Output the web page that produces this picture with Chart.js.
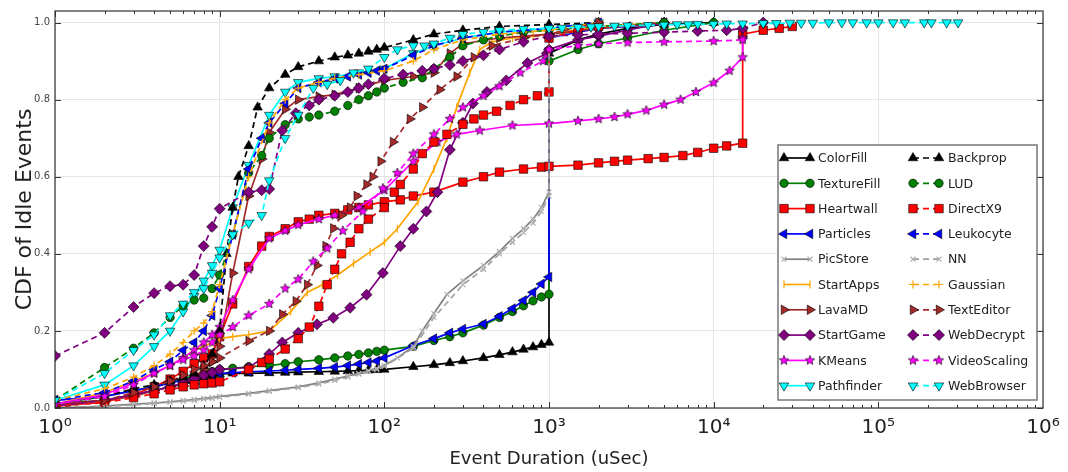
<!DOCTYPE html>
<html>
<head>
<meta charset="utf-8">
<script src="https://cdn.jsdelivr.net/npm/chart.js@4.4.0/dist/chart.umd.min.js"></script>
<style>
  html, body { margin: 0; padding: 0; background: #fff; }
  #wrap { width: 1068px; height: 472px; }
</style>
</head>
<body>
<div id="wrap"><canvas id="cdfChart" width="1068" height="472"></canvas></div>
<script>
// ---- axes ----
const xTicks = [1, 10, 100, 1000, 10000, 100000, 1000000];
const xTickLabels = ['10\u2070', '10\u00B9', '10\u00B2', '10\u00B3', '10\u2074', '10\u2075', '10\u2076'];
const yTicks = [0, 0.2, 0.4, 0.6, 0.8, 1.0];

// shared x grid (uSec) used by the low curves that end at 1000
const baseX = [1,2,3,4,5,6,7,8,9,10,12,15,20,25,30,40,50,60,70,80,90,100,150,200,250,300,400,500,600,700,800,900,1000];

// ---- series ----
const colorFillX = baseX.concat([1000,1500,2000,3000,5000,10000]);
const colorFillY = [0.01,0.02,0.035,0.045,0.055,0.062,0.07,0.078,0.083,0.088,0.09,0.09,0.091,0.092,0.093,0.094,0.095,0.096,0.097,0.098,0.099,0.1,0.107,0.112,0.117,0.122,0.13,0.138,0.145,0.152,0.158,0.164,0.17,
  0.92,0.955,0.97,0.985,0.995,1.0];

const textureFillX = baseX.concat([1000,1500,2000,3000,5000,10000]);
const textureFillY = [0.01,0.03,0.045,0.055,0.065,0.075,0.085,0.09,0.095,0.1,0.103,0.107,0.11,0.115,0.12,0.125,0.13,0.135,0.139,0.143,0.147,0.15,0.16,0.175,0.185,0.195,0.215,0.235,0.25,0.265,0.278,0.288,0.295,
  0.9,0.93,0.945,0.96,0.98,1.0];

const heartwallX = [1,2,3,4,5,6,7,8,9,10,12,15,18,20,25,30,35,40,50,60,70,80,100,125,150,200,300,400,500,700,900,1000,1500,2000,2500,3000,4000,5000,6500,8000,10000,12000,15000,15000,20000,25000,30000];
const heartwallY = [0.005,0.015,0.035,0.055,0.075,0.095,0.115,0.13,0.14,0.185,0.27,0.367,0.42,0.445,0.465,0.483,0.49,0.5,0.505,0.514,0.52,0.527,0.535,0.54,0.55,0.56,0.586,0.6,0.612,0.62,0.625,0.627,0.63,0.636,0.64,0.643,0.647,0.65,0.655,0.663,0.674,0.68,0.687,0.97,0.98,0.985,0.99];

const particlesX = baseX.concat([1000,1500,2000,3000,5000]);
const particlesY = [0.02,0.03,0.045,0.055,0.065,0.072,0.078,0.083,0.087,0.09,0.092,0.094,0.096,0.098,0.1,0.103,0.106,0.11,0.114,0.118,0.122,0.13,0.162,0.18,0.195,0.205,0.218,0.238,0.258,0.279,0.3,0.322,0.34,
  0.96,0.975,0.985,0.99,1.0];

const picStoreX = [1,2,3,4,5,6,7,8,9,10,15,20,30,40,50,60,70,80,90,100,120,150,170,200,240,300,400,500,600,700,800,900,1000,1000,1500,2000];
const picStoreY = [0.0,0.005,0.01,0.013,0.016,0.019,0.022,0.025,0.027,0.03,0.038,0.045,0.055,0.065,0.075,0.083,0.09,0.097,0.103,0.11,0.13,0.16,0.2,0.245,0.295,0.33,0.37,0.406,0.44,0.465,0.49,0.52,0.56,0.96,0.98,1.0];

const startAppsX = [1,2,3,4,5,6,7,8,9,10,12,15,20,27,34,42,52,65,82,100,120,160,200,240,275,330,380,450,600,800,1000,2000,5000];
const startAppsY = [0.01,0.04,0.07,0.09,0.11,0.13,0.15,0.16,0.17,0.18,0.185,0.19,0.2,0.25,0.3,0.32,0.345,0.375,0.405,0.43,0.465,0.535,0.62,0.7,0.78,0.87,0.93,0.95,0.96,0.965,0.97,0.99,1.0];

const lavaMDX = [1,2,3,4,5,6,7,8,9,10,12,15,18,20,25,30,40,50,70,100,150,200,250,300,500,1000,2000,5000];
const lavaMDY = [0.01,0.02,0.03,0.045,0.055,0.065,0.08,0.1,0.12,0.16,0.35,0.55,0.646,0.715,0.775,0.8,0.808,0.813,0.83,0.85,0.86,0.87,0.92,0.945,0.96,0.97,0.985,1.0];

const startGameX = [1,2,3,4,5,6,7,8,9,10,15,20,24,30,39,49,62,78,98,125,150,180,210,250,300,345,420,550,740,970,1000,1500,2000,5000];
const startGameY = [0.005,0.02,0.035,0.045,0.055,0.065,0.075,0.085,0.092,0.1,0.105,0.14,0.17,0.195,0.217,0.234,0.26,0.294,0.35,0.42,0.465,0.51,0.56,0.67,0.74,0.79,0.82,0.85,0.895,0.92,0.93,0.955,0.965,1.0];

const kMeansX = [1,2,3,4,5,6,7,8,9,10,12,15,20,25,30,40,50,70,100,150,210,275,380,600,1000,1500,2000,2500,3000,3900,5000,6300,7800,10000,12500,15000,15000];
const kMeansY = [0.01,0.035,0.065,0.09,0.11,0.13,0.15,0.17,0.19,0.21,0.28,0.36,0.44,0.46,0.475,0.49,0.5,0.52,0.565,0.64,0.69,0.71,0.72,0.733,0.738,0.745,0.75,0.755,0.762,0.772,0.787,0.8,0.82,0.844,0.875,0.91,0.96];

const pathfinderX = [1,2,3,4,5,6,7,8,9,10,12,15,20,25,30,40,50,70,100,150,200,300,500,1000,2000];
const pathfinderY = [0.02,0.06,0.11,0.16,0.2,0.25,0.29,0.33,0.37,0.41,0.52,0.63,0.76,0.82,0.845,0.855,0.86,0.87,0.88,0.92,0.94,0.96,0.975,0.985,1.0];

const backpropX = [1,2,3,4,5,6,7,8,9,10,11,12,13,15,17,20,25,30,40,50,60,70,80,90,100,150,200,300,500,1000,2000];
const backpropY = [0.01,0.03,0.05,0.06,0.07,0.08,0.09,0.11,0.14,0.2,0.4,0.52,0.6,0.68,0.78,0.83,0.865,0.885,0.9,0.91,0.915,0.92,0.925,0.93,0.935,0.955,0.97,0.98,0.99,0.995,1.0];

const ludX = [1,2,3,4,5,6,7,8,9,10,12,15,18,20,25,30,35,40,50,60,70,80,90,100,130,170,200,250,300,400,500,700,1000,2000,5000];
const ludY = [0.02,0.105,0.155,0.195,0.235,0.265,0.28,0.285,0.31,0.345,0.45,0.61,0.655,0.7,0.735,0.75,0.755,0.76,0.77,0.785,0.8,0.81,0.82,0.83,0.845,0.857,0.88,0.91,0.94,0.955,0.965,0.975,0.98,0.99,1.0];

const directX9X = [1,2,3,4,5,6,7,8,9,10,15,18,20,25,30,35,40,45,50,55,62,70,80,100,115,125,150,170,200,240,300,350,400,480,580,700,850,1000,1000,1500,2000];
const directX9Y = [0.005,0.014,0.027,0.037,0.047,0.055,0.06,0.063,0.065,0.068,0.1,0.118,0.127,0.153,0.18,0.21,0.264,0.32,0.36,0.4,0.43,0.465,0.49,0.52,0.56,0.58,0.62,0.66,0.69,0.71,0.736,0.75,0.76,0.77,0.785,0.8,0.81,0.82,0.96,0.98,0.99];

const leukocyteX = [1,2,3,4,5,6,7,8,9,10,12,15,18,20,25,30,40,50,60,70,80,90,100,150,200,300,500,1000,2000];
const leukocyteY = [0.02,0.04,0.07,0.1,0.12,0.15,0.17,0.2,0.24,0.31,0.45,0.62,0.7,0.74,0.79,0.83,0.845,0.855,0.86,0.865,0.87,0.875,0.88,0.915,0.94,0.96,0.975,0.985,1.0];

const nnX = [1,2,3,4,5,6,7,8,9,10,15,20,30,40,50,60,70,80,90,100,150,200,300,400,500,600,700,800,900,1000,1000,2000];
const nnY = [0.0,0.004,0.008,0.012,0.015,0.018,0.02,0.023,0.025,0.028,0.036,0.043,0.053,0.062,0.072,0.08,0.088,0.095,0.1,0.108,0.155,0.235,0.32,0.36,0.4,0.43,0.455,0.48,0.51,0.55,0.97,1.0];

const gaussianX = [1,2,3,4,5,6,7,8,9,10,12,15,20,25,30,40,50,70,100,150,200,300,500,1000,2000];
const gaussianY = [0.02,0.05,0.08,0.11,0.14,0.17,0.2,0.22,0.25,0.32,0.45,0.6,0.74,0.8,0.83,0.845,0.855,0.865,0.875,0.9,0.93,0.955,0.97,0.98,1.0];

const textEditorX = [1,2,3,4,5,6,7,8,9,10,15,20,24,29,34,39,44,49,55,62,68,78,85,95,113,143,170,217,275,350,450,700,1000,2000];
const textEditorY = [0.0,0.02,0.04,0.055,0.07,0.085,0.1,0.11,0.12,0.13,0.174,0.2,0.243,0.277,0.32,0.37,0.42,0.466,0.5,0.52,0.55,0.58,0.6,0.64,0.69,0.75,0.78,0.826,0.86,0.91,0.94,0.96,0.97,1.0];

const webDecryptX = [1,2,3,4,5,6,7,8,9,10,15,18,20,24,29,35,40,50,60,70,80,100,130,170,200,250,300,400,500,700,1000,1500,2000,3000,5000,8000,12000,15000,20000];
const webDecryptY = [0.135,0.195,0.262,0.298,0.316,0.32,0.345,0.42,0.47,0.517,0.56,0.565,0.568,0.72,0.765,0.785,0.8,0.81,0.82,0.83,0.84,0.855,0.865,0.875,0.88,0.89,0.9,0.915,0.93,0.95,0.965,0.968,0.97,0.972,0.975,0.978,0.98,0.985,1.0];

const videoScalingX = [1,2,3,4,5,6,7,8,9,10,12,15,20,25,30,37,45,56,74,98,120,150,200,250,300,400,500,670,920,1000,1500,2000,3000,5000,10000,15000];
const videoScalingY = [0.01,0.03,0.06,0.09,0.11,0.125,0.135,0.15,0.17,0.19,0.21,0.24,0.27,0.31,0.334,0.38,0.414,0.46,0.51,0.57,0.61,0.66,0.71,0.75,0.78,0.81,0.835,0.87,0.9,0.93,0.94,0.945,0.948,0.95,0.952,0.955];

const webBrowserX = [1,2,3,4,5,6,7,8,9,10,12,15,18,20,25,30,37,45,54,65,80,100,120,150,175,200,250,300,400,500,700,1000,1200,1500,1800,2000,2500,3000,4000,5000,6000,7000,8000,10000,12000,15000,20000,24000,29000,34000,40000,50000,60000,70000,85000,100000,123000,145000,190000,210000,260000,305000];
const webBrowserY = [0.02,0.09,0.15,0.19,0.24,0.27,0.3,0.31,0.35,0.39,0.45,0.48,0.5,0.59,0.7,0.76,0.83,0.84,0.85,0.87,0.88,0.91,0.93,0.94,0.94,0.945,0.96,0.97,0.975,0.98,0.983,0.985,0.986,0.988,0.989,0.99,0.991,0.992,0.993,0.994,0.995,0.995,0.996,0.996,0.997,0.997,0.998,0.998,0.999,0.999,0.999,1.0,1.0,1.0,1.0,1.0,1.0,1.0,1.0,1.0,1.0,1.0];

// ---- markers ----
function starMarker(color, r) {
  const c = document.createElement('canvas');
  const s = Math.ceil(r * 2 + 2);
  c.width = c.height = s;
  const g = c.getContext('2d');
  g.beginPath();
  for (let k = 0; k < 10; k++) {
    const rad = k % 2 ? r * 0.45 : r;
    const a = -Math.PI / 2 + k * Math.PI / 5;
    g.lineTo(s / 2 + rad * Math.cos(a), s / 2 + rad * Math.sin(a));
  }
  g.closePath();
  g.fillStyle = color;
  g.fill();
  g.strokeStyle = '#000';
  g.lineWidth = 0.6;
  g.stroke();
  return c;
}
const starMagenta = starMarker('#ff00ff', 5);

// label, x, y, line colour, dashed, point style, rotation, radius, marker colour, black edge
const seriesDefs = [
  ['ColorFill',    colorFillX,    colorFillY,    '#000000', false, 'triangle', 0,   5.5, '#000000', true],
  ['TextureFill',  textureFillX,  textureFillY,  '#008000', false, 'circle',   0,   4.2, '#008000', true],
  ['Heartwall',    heartwallX,    heartwallY,    '#ff0000', false, 'rect',     0,   6,   '#ff0000', true],
  ['Particles',    particlesX,    particlesY,    '#0000ff', false, 'triangle', -90, 5.5, '#0000ff', true],
  ['PicStore',     picStoreX,     picStoreY,     '#808080', false, 'crossRot', 0,   3.5, '#b0b0b0', false],
  ['StartApps',    startAppsX,    startAppsY,    '#ffa500', false, 'line',     90,  4,   '#ffa500', false],
  ['LavaMD',       lavaMDX,       lavaMDY,       '#a52a2a', false, 'triangle', 90,  5.5, '#a52a2a', true],
  ['StartGame',    startGameX,    startGameY,    '#800080', false, 'rectRot',  0,   5.5, '#800080', true],
  ['KMeans',       kMeansX,       kMeansY,       '#ff00ff', false, starMagenta, 0,  5,   '#ff00ff', true],
  ['Pathfinder',   pathfinderX,   pathfinderY,   '#00ffff', false, 'triangle', 180, 5.5, '#00ffff', true],
  ['Backprop',     backpropX,     backpropY,     '#000000', true,  'triangle', 0,   5.5, '#000000', true],
  ['LUD',          ludX,          ludY,          '#008000', true,  'circle',   0,   4.2, '#008000', true],
  ['DirectX9',     directX9X,     directX9Y,     '#ff0000', true,  'rect',     0,   6,   '#ff0000', true],
  ['Leukocyte',    leukocyteX,    leukocyteY,    '#0000ff', true,  'triangle', -90, 5.5, '#0000ff', true],
  ['NN',           nnX,           nnY,           '#a0a0a0', true,  'crossRot', 0,   3.5, '#b0b0b0', false],
  ['Gaussian',     gaussianX,     gaussianY,     '#ffa500', true,  'cross',    0,   4,   '#ffa500', false],
  ['TextEditor',   textEditorX,   textEditorY,   '#a52a2a', true,  'triangle', 90,  5.5, '#a52a2a', true],
  ['WebDecrypt',   webDecryptX,   webDecryptY,   '#800080', true,  'rectRot',  0,   5.5, '#800080', true],
  ['VideoScaling', videoScalingX, videoScalingY, '#ff00ff', true,  starMagenta, 0,  5,   '#ff00ff', true],
  ['WebBrowser',   webBrowserX,   webBrowserY,   '#00ffff', true,  'triangle', 180, 5.5, '#00ffff', true]
];

const datasets = seriesDefs.map((d, i) => ({
  label: d[0],
  data: d[1].map((x, k) => ({ x: x, y: d[2][k] })),
  borderColor: d[3],
  borderWidth: 1.7,
  borderDash: d[4] ? [6, 4] : [],
  pointStyle: d[5],
  rotation: d[6],
  pointRadius: d[7],
  pointBackgroundColor: d[8],
  pointBorderColor: d[9] ? '#000000' : d[8],
  pointBorderWidth: d[9] ? 0.6 : 1.2,
  fill: false,
  tension: 0,
  order: seriesDefs.length - i
}));

// frame + inward ticks, like the original plot
const framePlugin = {
  id: 'frame',
  afterDatasetsDraw(chart) {
    const { ctx, chartArea: a, scales } = chart;
    ctx.save();
    ctx.strokeStyle = '#333';
    ctx.lineWidth = 1;
    ctx.beginPath();
    for (let k = 0; k < 6; k++) {
      for (let m = 1; m <= 9; m++) {
        const px = Math.round(scales.x.getPixelForValue(m * Math.pow(10, k))) + 0.5;
        const len = m === 1 ? 6 : 3;
        ctx.moveTo(px, a.bottom); ctx.lineTo(px, a.bottom - len);
        ctx.moveTo(px, a.top); ctx.lineTo(px, a.top + len);
      }
    }
    yTicks.forEach(v => {
      const py = Math.round(scales.y.getPixelForValue(v)) + 0.5;
      ctx.moveTo(a.left, py); ctx.lineTo(a.left + 6, py);
      ctx.moveTo(a.right, py); ctx.lineTo(a.right - 6, py);
    });
    ctx.stroke();
    ctx.lineWidth = 1.2;
    ctx.strokeRect(a.left, a.top, a.right - a.left, a.bottom - a.top);
    ctx.restore();
  }
};

// legend drawn inside the plot, two columns, marker at both ends of the line
const legendPlugin = {
  id: 'insideLegend',
  afterDraw(chart) {
    const ctx = chart.ctx;
    const box = { x: 778, y: 145, w: 259, h: 255 };
    ctx.save();
    ctx.fillStyle = '#fff';
    ctx.fillRect(box.x, box.y, box.w, box.h);
    ctx.strokeStyle = '#777';
    ctx.lineWidth = 1.5;
    ctx.strokeRect(box.x, box.y, box.w, box.h);
    ctx.font = '12.5px "DejaVu Sans"';
    ctx.textBaseline = 'middle';
    chart.data.datasets.forEach((ds, i) => {
      const col = i < 10 ? 0 : 1;
      const row = i % 10;
      const y = 158 + row * 25.3;
      const x0 = col === 0 ? 784 : 913;
      const x1 = x0 + 26;
      ctx.strokeStyle = ds.borderColor;
      ctx.lineWidth = 1.7;
      ctx.setLineDash(ds.borderDash);
      ctx.beginPath(); ctx.moveTo(x0, y); ctx.lineTo(x1, y); ctx.stroke();
      ctx.setLineDash([]);
      [x0, x1].forEach(px => {
        ctx.fillStyle = ds.pointBackgroundColor;
        ctx.strokeStyle = ds.pointBorderColor;
        ctx.lineWidth = ds.pointBorderWidth;
        Chart.helpers.drawPoint(ctx, {
          pointStyle: ds.pointStyle, rotation: ds.rotation,
          radius: ds.pointRadius, borderWidth: ds.pointBorderWidth
        }, px, y);
      });
      ctx.fillStyle = '#222';
      ctx.fillText(ds.label, col === 0 ? 818 : 948, y + 1);
    });
    ctx.restore();
  }
};

const ctx = document.getElementById('cdfChart').getContext('2d');
new Chart(ctx, {
  type: 'line',
  data: { datasets: datasets },
  options: {
    responsive: false,
    animation: false,
    layout: { padding: { top: 8, right: 25, left: 0, bottom: 0 } },
    scales: {
      x: {
        type: 'logarithmic',
        min: 1,
        max: 1000000,
        afterBuildTicks: s => { s.ticks = xTicks.map(v => ({ value: v })); },
        afterFit: s => { s.height = 64; },
        grid: { color: '#e6e6e6', drawTicks: false },
        border: { display: false },
        ticks: {
          autoSkip: false, maxRotation: 0, padding: 8,
          color: '#222',
          font: { family: 'DejaVu Sans', size: 20 },
          callback: (v, i) => xTickLabels[i]
        },
        title: {
          display: true, text: 'Event Duration (uSec)', color: '#222',
          font: { family: 'DejaVu Sans', size: 18 }, padding: { top: 0, bottom: 2 }
        }
      },
      y: {
        min: 0,
        max: 1.03,
        afterBuildTicks: s => { s.ticks = yTicks.map(v => ({ value: v })); },
        afterFit: s => { s.width = 55; },
        grid: { color: '#e6e6e6', drawTicks: false },
        border: { display: false },
        ticks: {
          padding: 5, color: '#444',
          font: { family: 'DejaVu Sans', size: 10 },
          callback: v => v.toFixed(1)
        },
        title: {
          display: true, text: 'CDF of Idle Events', color: '#222',
          font: { family: 'DejaVu Sans', size: 22 }, padding: { top: 12, bottom: 0 }
        }
      }
    },
    plugins: { legend: { display: false }, tooltip: { enabled: false } }
  },
  plugins: [framePlugin, legendPlugin]
});
</script>
</body>
</html>
